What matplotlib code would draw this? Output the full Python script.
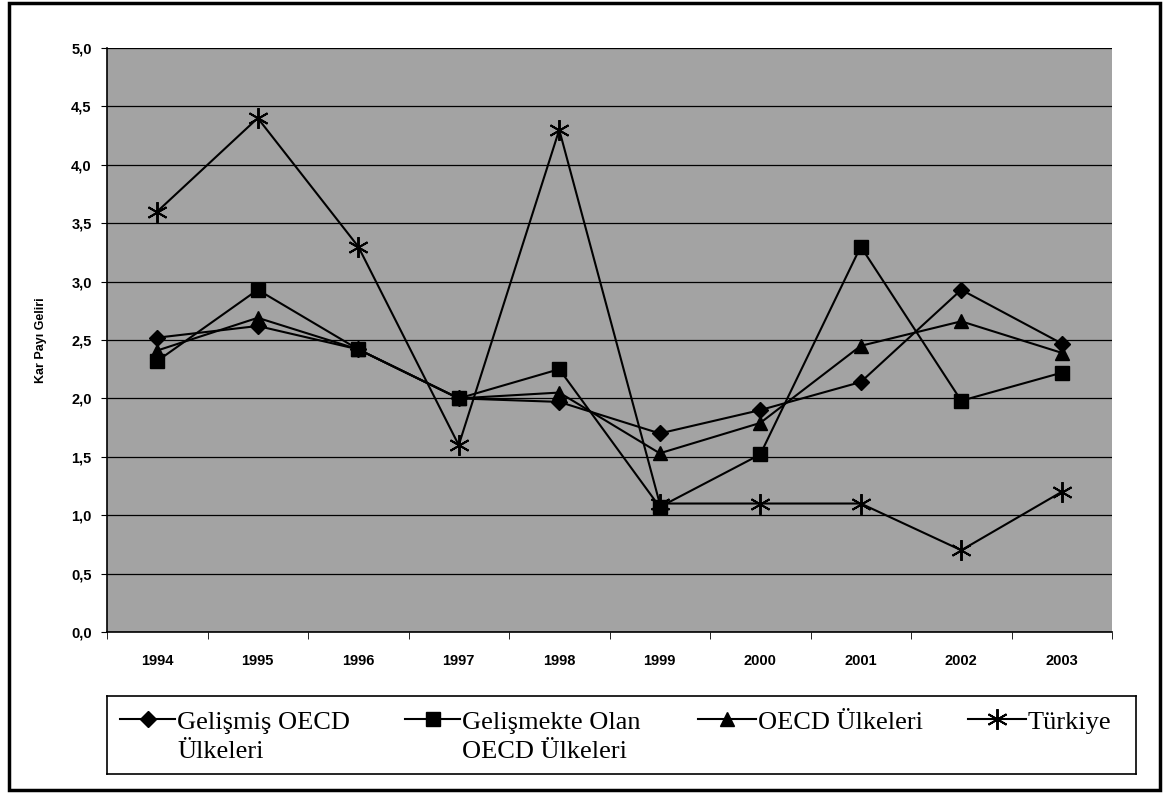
"""Kar payı geliri: OECD grupları ve Türkiye, 1994-2003."""

import matplotlib

matplotlib.use("Agg")
import matplotlib.pyplot as plt
from matplotlib.patches import Rectangle
from matplotlib.ticker import FuncFormatter, MultipleLocator

years = ["1994", "1995", "1996", "1997", "1998", "1999", "2000", "2001", "2002", "2003"]
gelismis_oecd = [2.52, 2.62, 2.42, 2.00, 1.97, 1.70, 1.90, 2.14, 2.93, 2.47]
gelismekte_olan = [2.32, 2.93, 2.42, 2.00, 2.25, 1.07, 1.52, 3.30, 1.98, 2.22]
oecd_ulkeleri = [2.41, 2.69, 2.42, 2.00, 2.05, 1.53, 1.79, 2.45, 2.66, 2.39]
turkiye = [3.60, 4.40, 3.30, 1.60, 4.30, 1.10, 1.10, 1.10, 0.70, 1.20]

labels = [
    "Gelişmiş OECD\nÜlkeleri",
    "Gelişmekte Olan\nOECD Ülkeleri",
    "OECD Ülkeleri",
    "Türkiye",
]

W, H = 1166, 796
fig = plt.figure(figsize=(W / 100, H / 100), dpi=100)
ax = fig.add_axes([107 / W, 1 - 632 / H, (1112 - 107) / W, (632 - 48) / H])
ax.set_facecolor("#a3a3a3")

styles = [
    dict(marker="D", markersize=8),
    dict(marker="s", markersize=10),
    dict(marker="^", markersize=10),
    dict(marker=(6, 2, 0), markersize=15, markeredgewidth=1.4),
]
x = list(range(len(years)))
for values, style in zip([gelismis_oecd, gelismekte_olan, oecd_ulkeleri, turkiye], styles):
    ax.plot(x, values, color="black", linewidth=1.5,
            markerfacecolor="black", markeredgecolor="black", **style)

ax.set_xlim(-0.5, len(years) - 0.5)
ax.set_ylim(0, 5.0)
ax.yaxis.set_major_locator(MultipleLocator(0.5))
ax.yaxis.set_major_formatter(FuncFormatter(lambda v, _: f"{v:.1f}".replace(".", ",")))
ax.grid(axis="y", color="black", linewidth=0.9)
ax.set_axisbelow(True)

ax.set_xticks(x)
ax.set_xticklabels(years)
ax.set_xticks([i - 0.5 for i in range(len(years) + 1)], minor=True)
ax.tick_params(axis="x", which="major", length=0, pad=16)
ax.tick_params(axis="x", which="minor", length=5, direction="out")
ax.tick_params(axis="y", length=4, direction="out", pad=7)
for lab in ax.get_xticklabels() + ax.get_yticklabels():
    lab.set_fontfamily("Liberation Sans")
    lab.set_fontweight("bold")
    lab.set_fontsize(10.5)

for side in ("top", "right"):
    ax.spines[side].set_visible(False)
for side in ("left", "bottom"):
    ax.spines[side].set_linewidth(1.2)

ax.set_ylabel("Kar Payı Geliri", fontfamily="Liberation Sans", fontweight="bold",
              fontsize=9, labelpad=17)

# legend box drawn in its own pixel-scaled axes
lx0, lx1, ly0, ly1 = 107, 1136, 696, 774
lax = fig.add_axes([lx0 / W, 1 - ly1 / H, (lx1 - lx0) / W, (ly1 - ly0) / H])
lax.set_xlim(lx0, lx1)
lax.set_ylim(ly1, ly0)
lax.set_xticks([])
lax.set_yticks([])
for sp in lax.spines.values():
    sp.set_linewidth(1.2)

handle_x = [(120, 175), (405, 460), (698, 756), (968, 1026)]
for (hx0, hx1), style, label in zip(handle_x, styles, labels):
    lax.plot([hx0, hx1], [719, 719], color="black", linewidth=1.5)
    lax.plot([(hx0 + hx1) / 2], [719], color="black",
             markerfacecolor="black", markeredgecolor="black", **style)
    for k, line in enumerate(label.split("\n")):
        lax.text(hx1 + 2, 729 + 29 * k, line, ha="left", va="baseline",
                 fontfamily="Liberation Serif", fontsize=19)

fig.patches.append(Rectangle((0.008, 0.008), 0.987, 0.988, transform=fig.transFigure,
                             fill=False, edgecolor="black", linewidth=2.5))

fig.savefig("out.png", dpi=100)
